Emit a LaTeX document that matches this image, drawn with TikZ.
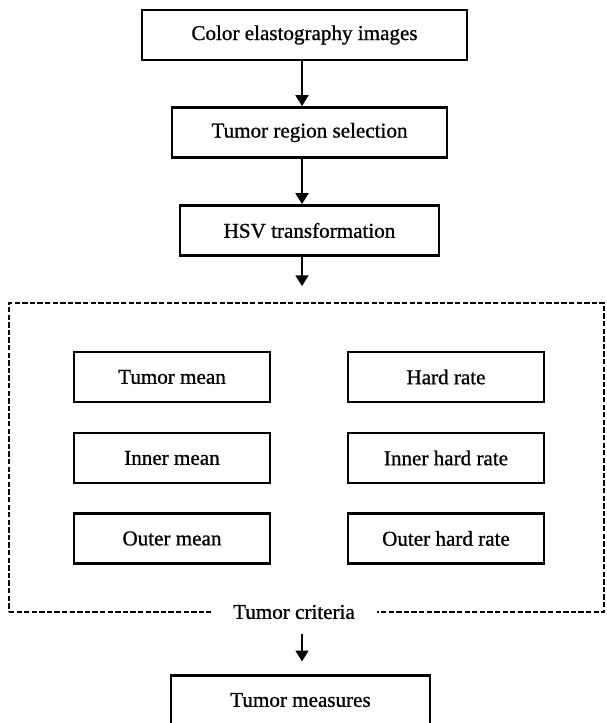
\documentclass[tikz,border=0pt]{standalone}
\usepackage{fontspec}
\setmainfont{Liberation Serif}[RawFeature={embolden=0.9}]
\usetikzlibrary{arrows.meta}

\begin{document}
\begin{tikzpicture}[x=0.025cm, y=-0.025cm,
        box/.style={draw, line width=1.9pt, minimum height=1.25cm, inner sep=0pt, font=\fontsize{15}{18}\selectfont},
        flow/.style={line width=2.1pt, -{Triangle[length=7.8pt, width=9pt]}},
        frame/.style={draw, line width=1.8pt, dash pattern=on 3.8pt off 1.6pt}]
    \useasboundingbox (0, 0) rectangle (606, 723);
    \clip (0, 0) rectangle (606, 723);

    \coordinate (spine) at (302, 0);

    \node[box, minimum width=8.125cm] (img) at (304.5, 35) {Color elastography images};
    \node[box, minimum width=6.875cm] (sel) at (309.5, 132.5) {Tumor region selection};
    \node[box, minimum width=6.475cm] (hsv) at (309.5, 230.5) {HSV transformation};

    \node[frame, minimum width=14.875cm, minimum height=7.725cm] (crit) at (306.5, 457.5) {};
    \node[fill=white, inner xsep=16pt, inner ysep=2pt, font=\fontsize{15}{18}\selectfont] (critlabel) at (294, 612) {Tumor criteria};

    \node[box, minimum width=4.9cm] (tmean) at (172, 377) {Tumor mean};
    \node[box, minimum width=4.9cm] (imean) at (172, 458) {Inner mean};
    \node[box, minimum width=4.9cm] (omean) at (172, 538.5) {Outer mean};

    \node[box, minimum width=4.9cm] (hrate) at (446, 377) {Hard rate};
    \node[box, minimum width=4.9cm] (ihrate) at (446, 458) {Inner hard rate};
    \node[box, minimum width=4.9cm] (ohrate) at (446, 538.5) {Outer hard rate};

    \node[box, minimum width=6.475cm, minimum height=1.4cm] (meas) at (300.5, 703.5) {};
    \node[font=\fontsize{15}{18}\selectfont] (measlabel) at (300.5, 700) {Tumor measures};

    \draw[flow] (img.south -| spine) -- (sel.north -| spine);
    \draw[flow] (sel.south -| spine) -- (hsv.north -| spine);
    \draw[flow, shorten >=11pt] (hsv.south -| spine) -- (crit.north -| spine);
    \draw[flow, shorten <=8.5pt, shorten >=9pt] (critlabel.south -| spine) -- (meas.north -| spine);
\end{tikzpicture}
\end{document}
